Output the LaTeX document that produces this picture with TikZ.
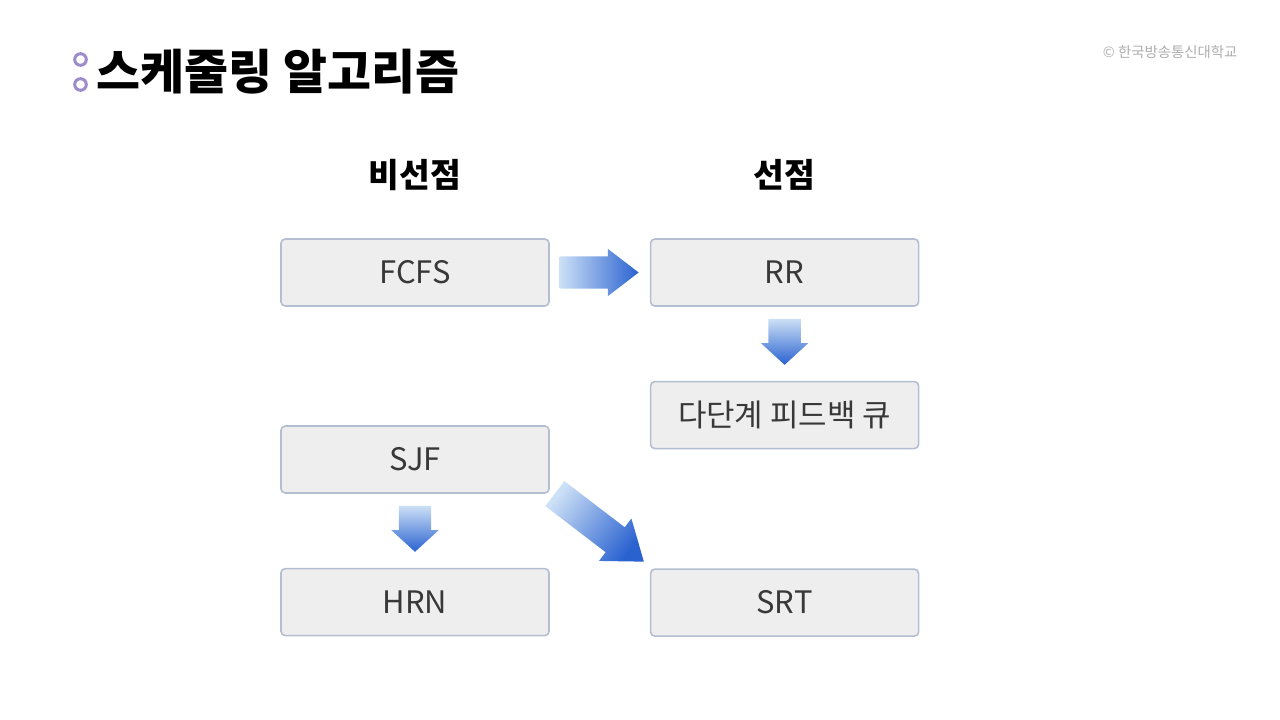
\documentclass[tikz,border=0pt]{standalone}
\usepackage{fontspec}
\setmainfont{Noto Sans CJK KR}
\usetikzlibrary{positioning, shapes.arrows, calc}

\definecolor{boxfill}{HTML}{EEEEEE}
\definecolor{boxline}{HTML}{B3BED0}
\definecolor{arrlight}{HTML}{CCE0F6}
\definecolor{arrdark}{HTML}{2A62D0}
\definecolor{bulletc}{HTML}{9E8BCB}

\begin{document}
\begin{tikzpicture}[
  node distance=0.74cm and 1.0cm,
  algo/.style={draw=boxline, line width=0.45pt, rounded corners=1.2pt,
               fill=boxfill, minimum width=2.68cm, minimum height=0.67cm,
               inner sep=0pt, text=black!78, font=\fontsize{8.8}{10}\selectfont},
  colhead/.style={font=\fontsize{9.5}{11}\selectfont\bfseries},
  barrow/.style={single arrow, inner xsep=0pt, inner ysep=0.155cm,
                 single arrow head extend=0.075cm, draw=none, anchor=tip,
                 left color=arrlight, right color=arrdark},
  darrow/.style={barrow, minimum height=0.46cm, single arrow tip angle=95,
                 rotate=-90, top color=arrlight, bottom color=arrdark}
]
  \useasboundingbox (0,0) rectangle (12.8,-7.2);

  % Title
  \draw[bulletc, line width=0.85pt] (0.805,-0.595) circle (0.058)
                                    (0.805,-0.845) circle (0.058);
  \node[anchor=west, inner sep=0pt, font=\fontsize{13.6}{15}\selectfont\bfseries]
    (title) at (0.96,-0.72) {스케줄링 알고리즘};
  \node[anchor=east, inner sep=0pt, text=black!32, font=\fontsize{4.1}{5}\selectfont]
    (copy) at (12.38,-0.52) {© 한국방송통신대학교};

  % Columns
  \node[colhead] (nonpre) at (4.15,-1.75) {비선점};
  \node[colhead] (pre) at (7.84,-1.75) {선점};

  % Algorithms
  \node[algo] (fcfs) at (4.15,-2.725) {FCFS};
  \node[algo, right=of fcfs] (rr) {RR};
  \node[algo, below=of rr] (mlfq) {다단계 피드백 큐};
  \node[algo] (sjf) at (4.15,-4.595) {SJF};
  \node[algo, below=of sjf] (hrn) {HRN};
  \node[algo, below=1.19cm of mlfq] (srt) {SRT};

  % Block arrows
  \node[barrow, minimum height=0.79cm, single arrow tip angle=75]
    (a1) at ($(rr.west)+(-0.1,0)$) {};
  \node[darrow] (a2) at ($(mlfq.north)+(0,0.15)$) {};
  \node[darrow] (a3) at ($(hrn.north)+(0,0.15)$) {};
  \node[barrow, minimum height=1.12cm, inner ysep=0.15cm,
        single arrow head extend=0.11cm, single arrow tip angle=73,
        rotate=-37.4, shading angle=52.6]
    (a4) at ($(srt.north west)+(-0.05,0.06)$) {};
\end{tikzpicture}
\end{document}
